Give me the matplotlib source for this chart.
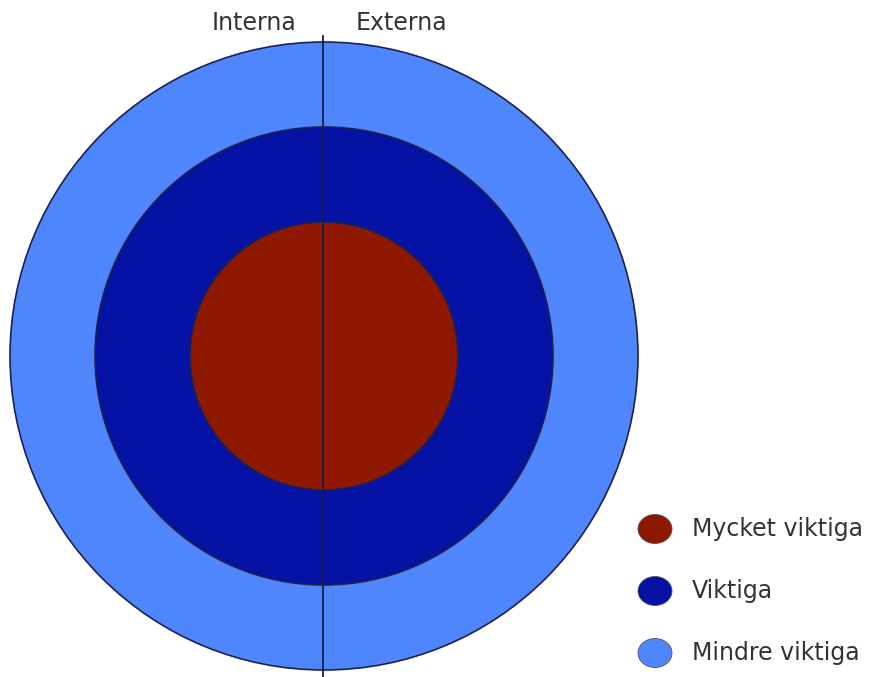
import matplotlib
matplotlib.use('Agg')
import matplotlib.pyplot as plt
from matplotlib.patches import Circle, Ellipse

# rings, outermost first
ring_labels = ['Mindre viktiga', 'Viktiga', 'Mycket viktiga']
ring_radii = [314, 229, 134]
ring_colors = ['#4f86fb', '#0512a3', '#8e1800']

side_labels = ['Interna', 'Externa']
legend_labels = ['Mycket viktiga', 'Viktiga', 'Mindre viktiga']
legend_colors = ['#8e1800', '#0512a3', '#4f86fb']

cx, cy = 324, 356

fig = plt.figure(figsize=(8.7, 6.77), dpi=100)
ax = fig.add_axes([0, 0, 1, 1])
ax.set_xlim(0, 870)
ax.set_ylim(677, 0)
ax.set_aspect('equal')
ax.axis('off')

for r, c in zip(ring_radii, ring_colors):
    ax.add_patch(Circle((cx, cy), r, facecolor=c, edgecolor='#1c2250', lw=1.2))

# divider line
ax.plot([cx - 1, cx - 1], [36, 677], color='#1a1d4a', lw=1.3)

ax.text(254, 23, side_labels[0], ha='center', va='center', fontsize=17, color='#333333')
ax.text(401, 23, side_labels[1], ha='center', va='center', fontsize=17, color='#333333')

# legend
for i, (lab, c) in enumerate(zip(legend_labels, legend_colors)):
    y = 529 + i * 62
    ax.add_patch(Ellipse((655, y), 34, 29, facecolor=c, edgecolor='#555555', lw=0.6))
    ax.text(692, y, lab, ha='left', va='center', fontsize=17, color='#333333')

fig.savefig('out.png', dpi=100)
